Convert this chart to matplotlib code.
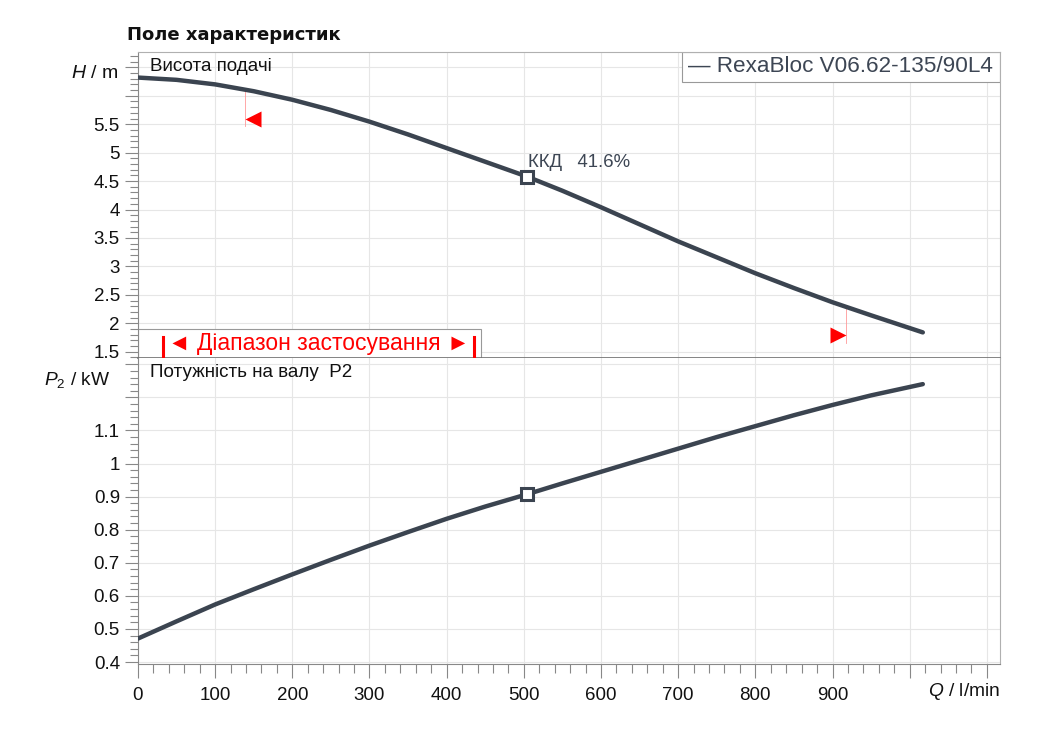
import matplotlib
matplotlib.use('Agg')
import matplotlib.pyplot as plt
from matplotlib.ticker import FixedLocator, MultipleLocator, FixedFormatter
from matplotlib.patches import Rectangle

plt.rcParams['font.family'] = ['Liberation Sans', 'DejaVu Sans']
plt.rcParams['mathtext.fontset'] = 'custom'
plt.rcParams['mathtext.rm'] = 'Liberation Sans'
plt.rcParams['mathtext.it'] = 'Liberation Sans:italic'

# Дані
Q = [0, 50, 100, 150, 200, 250, 300, 350, 400, 450, 504,
     550, 600, 650, 700, 750, 800, 850, 900, 950, 1017]
H = [6.32, 6.28, 6.20, 6.08, 5.93, 5.75, 5.545, 5.32, 5.08, 4.84, 4.58,
     4.33, 4.04, 3.74, 3.44, 3.16, 2.88, 2.62, 2.37, 2.14, 1.84]
P2 = [0.471, 0.523, 0.574, 0.620, 0.665, 0.709, 0.752, 0.793, 0.833, 0.870, 0.907,
      0.940, 0.975, 1.010, 1.045, 1.080, 1.113, 1.146, 1.177, 1.206, 1.240]

# робоча точка (ККД)
Q_BEP = 504
H_BEP = 4.58
P_BEP = 0.907
KKD = 41.6

# межі діапазону застосування
Q_RANGE = [139, 917]
H_RANGE = [6.11, 2.28]

PUMP = 'RexaBloc V06.62-135/90L4'

X_TICKS = [0, 100, 200, 300, 400, 500, 600, 700, 800, 900, 1000, 1100]
X_LABELS = ['0', '100', '200', '300', '400', '500', '600', '700', '800', '900', '', '']
H_TICKS = [1.5, 2, 2.5, 3, 3.5, 4, 4.5, 5, 5.5, 6, 6.5]
H_LABELS = ['1.5', '2', '2.5', '3', '3.5', '4', '4.5', '5', '5.5', '', '']
P_TICKS = [0.4, 0.5, 0.6, 0.7, 0.8, 0.9, 1.0, 1.1, 1.2, 1.3]
P_LABELS = ['0.4', '0.5', '0.6', '0.7', '0.8', '0.9', '1', '1.1', '', '']

LINE = '#3b4450'
TXT = '#111111'
FS = 13.5

fig = plt.figure(figsize=(10.46, 7.33), dpi=100)
ax1 = fig.add_axes([0.1319, 0.5116, 0.8241, 0.4175])
ax2 = fig.add_axes([0.1319, 0.0941, 0.8241, 0.4175])

for ax in (ax1, ax2):
    ax.set_xlim(0, 1117)
    ax.xaxis.set_major_locator(FixedLocator(X_TICKS))
    ax.xaxis.set_minor_locator(MultipleLocator(20))
    ax.grid(True, which='major', color='#e6e6e6', lw=0.8)
    ax.set_axisbelow(True)
    ax.spines['top'].set_color('#b0b0b0')
    ax.spines['right'].set_color('#b0b0b0')
    ax.spines['left'].set_color('#888888')
    ax.tick_params(axis='y', which='major', direction='out', length=9.5,
                   width=0.8, color='#888888', labelsize=FS, labelcolor=TXT, pad=3.5)
    ax.tick_params(axis='y', which='minor', direction='out', length=6,
                   width=0.8, color='#888888')

# --- верхня панель: висота подачі ---
ax1.set_ylim(1.39, 6.77)
ax1.yaxis.set_major_locator(FixedLocator(H_TICKS))
ax1.yaxis.set_major_formatter(FixedFormatter(H_LABELS))
ax1.yaxis.set_minor_locator(MultipleLocator(0.1))
ax1.tick_params(axis='x', which='both', length=0, labelbottom=False)
ax1.spines['bottom'].set_color('#707070')
ax1.spines['bottom'].set_linewidth(1.2)

ax1.plot(Q, H, color=LINE, lw=3.2, solid_capstyle='round', solid_joinstyle='round', zorder=3)
ax1.plot([Q_BEP], [H_BEP], marker='s', ms=8, mfc='white', mec=LINE, mew=2.2, zorder=4)
ax1.text(Q_BEP + 2, H_BEP + 0.24, f'ККД   {KKD}%', color='#3d4654', fontsize=13.4,
         ha='left', va='center')

# червоні позначки меж діапазону
ax1.plot([Q_RANGE[0], Q_RANGE[0]], [H_RANGE[0], H_RANGE[0] - 0.64], color='#ff9999', lw=0.6, zorder=2)
ax1.plot([Q_RANGE[1], Q_RANGE[1]], [H_RANGE[1], H_RANGE[1] - 0.63], color='#ff9999', lw=0.6, zorder=2)
ax1.plot([Q_RANGE[0] + 9.7], [H_RANGE[0] - 0.52], marker='<', ms=11, color='red', mec='none', zorder=4)
ax1.plot([Q_RANGE[1] - 9.7], [H_RANGE[1] - 0.49], marker='>', ms=11, color='red', mec='none', zorder=4)

ax1.text(0.0139, 0.951, 'Висота подачі', transform=ax1.transAxes, fontsize=FS,
         color=TXT, ha='left', va='center')

# блок "Діапазон застосування"
ax1.add_patch(Rectangle((0, 0), 0.398, 0.095, transform=ax1.transAxes,
                        facecolor='white', edgecolor='#999999', lw=0.8, zorder=2))
ax1.text(0.21, 0.049, '◄ Діапазон застосування ►', transform=ax1.transAxes,
         color='red', fontsize=16.5, ha='center', va='center', zorder=3)
for xb in (0.029, 0.39):
    ax1.plot([xb, xb], [0.0, 0.069], transform=ax1.transAxes, color='red', lw=2.2, zorder=3)

# легенда
ax1.add_patch(Rectangle((0.631, 0.902), 0.369, 0.098, transform=ax1.transAxes,
                        facecolor='white', edgecolor='#999999', lw=0.8, zorder=2))
ax1.text(0.638, 0.951, '— ' + PUMP, transform=ax1.transAxes, color='#3d4654',
         fontsize=16.2, ha='left', va='center', zorder=3)

# --- нижня панель: потужність ---
ax2.set_ylim(0.394, 1.319)
ax2.yaxis.set_major_locator(FixedLocator(P_TICKS))
ax2.yaxis.set_major_formatter(FixedFormatter(P_LABELS))
ax2.yaxis.set_minor_locator(MultipleLocator(0.02))
ax2.xaxis.set_major_formatter(FixedFormatter(X_LABELS))
ax2.spines['bottom'].set_color('#888888')
ax2.tick_params(axis='x', which='major', direction='out', length=10, width=0.8,
                color='#888888', labelsize=FS, labelcolor=TXT, pad=6.5)
ax2.tick_params(axis='x', which='minor', direction='out', length=6.5, width=0.8,
                color='#888888')
ax2.spines['top'].set_visible(False)

ax2.plot(Q, P2, color=LINE, lw=3.2, solid_capstyle='round', solid_joinstyle='round', zorder=3)
ax2.plot([Q_BEP], [P_BEP], marker='s', ms=8, mfc='white', mec=LINE, mew=2.2, zorder=4)
ax2.text(0.0139, 0.951, 'Потужність на валу  P2', transform=ax2.transAxes, fontsize=FS,
         color=TXT, ha='left', va='center')

# підписи осей і заголовок
fig.text(127 / 1046, 1 - 35 / 733, 'Поле характеристик', fontsize=13, fontweight='bold',
         family='DejaVu Sans', ha='left', va='center', color=TXT)
fig.text(118 / 1046, 1 - 73 / 733, '$H$ / m', fontsize=14, ha='right', va='center', color=TXT)
fig.text(110 / 1046, 1 - 380 / 733, '$P_{2}$ / kW', fontsize=13.8, ha='right', va='center', color=TXT)
fig.text(1000 / 1046, 1 - 692 / 733, '$Q$ / l/min', fontsize=13.8, ha='right', va='center', color=TXT)

fig.savefig('out.png', dpi=100, facecolor='white')
